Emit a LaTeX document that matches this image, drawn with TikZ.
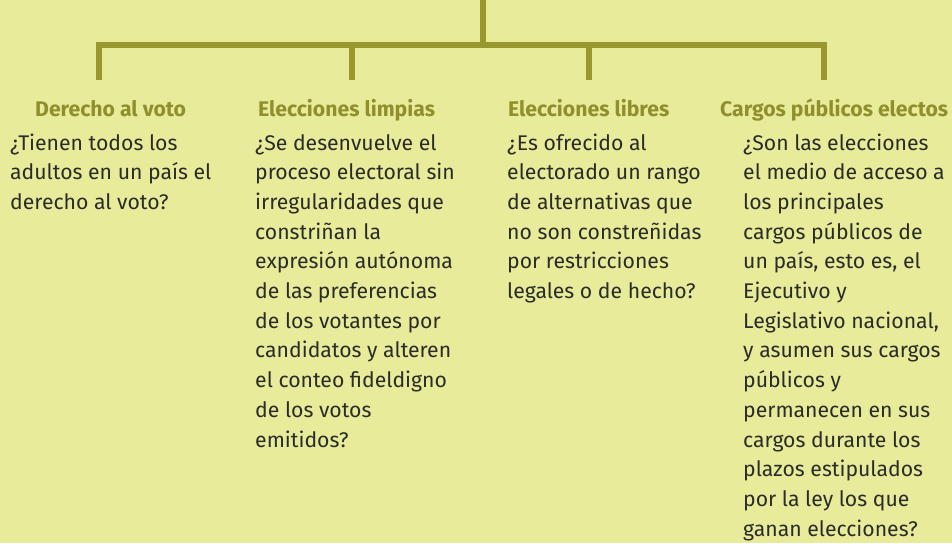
\documentclass[tikz,border=0pt]{standalone}
\usepackage{fontspec}
\setmainfont{Fira Sans}
\definecolor{bgc}{HTML}{E8EB9A}
\definecolor{linec}{HTML}{99982F}
\definecolor{headc}{HTML}{8F902C}
\definecolor{bodyc}{HTML}{2B2B28}
\tikzset{
  x=1pt,y=-1pt,
  tree/.style={draw=linec,line width=6pt},
  head/.style={anchor=base west,inner sep=0pt,text=headc,font=\fontsize{21.2}{24}\selectfont\bfseries},
  body/.style={anchor=base west,inner sep=0pt,text=bodyc,align=left,font=\fontsize{21.2}{29.7}\selectfont},
}
\begin{document}
\begin{tikzpicture}
\fill[bgc] (0,0) rectangle (952,543);
\useasboundingbox (0,0) rectangle (952,543);
\coordinate (top) at (483,0);
\coordinate (mid) at (483,45.5);
\coordinate (b1) at (99,80);
\coordinate (b2) at (352,80);
\coordinate (b3) at (589,80);
\coordinate (b4) at (824,80);
\draw[tree] (top) -- (mid);
\draw[tree,line cap=rect] (b1 |- mid) -- (b4 |- mid);
\draw[tree] (b1 |- mid) -- (b1);
\draw[tree] (b2 |- mid) -- (b2);
\draw[tree] (b3 |- mid) -- (b3);
\draw[tree] (b4 |- mid) -- (b4);
\node[head] (h1) at (35,116) {Derecho al voto};
\node[head] (h2) at (258,116) {Elecciones limpias};
\node[head] (h3) at (508,116) {Elecciones libres};
\node[head] (h4) at (720,116) {Cargos públicos electos};
% base anchor = baseline of the last line
\node[body] (t1) at (10,209.4) {¿Tienen todos los\\adultos en un país el\\derecho al voto?};
\node[body] (t2) at (255,447) {¿Se desenvuelve el\\proceso electoral sin\\irregularidades que\\constriñan la\\expresión autónoma\\de las preferencias\\de los votantes por\\candidatos y alteren\\el conteo fideldigno\\de los votos\\emitidos?};
\node[body] (t3) at (507,298.5) {¿Es ofrecido al\\electorado un rango\\de alternativas que\\no son constreñidas\\por restricciones\\legales o de hecho?};
\node[body] (t4) at (743,536.1) {¿Son las elecciones\\el medio de acceso a\\los principales\\cargos públicos de\\un país, esto es, el\\Ejecutivo y\\Legislativo nacional,\\y asumen sus cargos\\públicos y\\permanecen en sus\\cargos durante los\\plazos estipulados\\por la ley los que\\ganan elecciones?};
\end{tikzpicture}
\end{document}
